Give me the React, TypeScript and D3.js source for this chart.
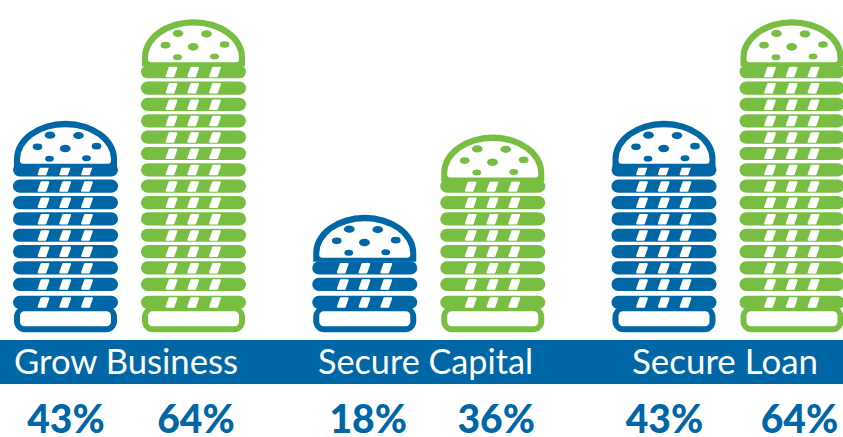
import React from "react";
import * as d3 from "d3";

const categories = ["Grow Business", "Secure Capital", "Secure Loan"];
const seriesNames = ["blue", "green"];
const blueValues = [43, 18, 43];
const greenValues = [64, 36, 64];
const blueLayers = [9, 3, 9];
const greenLayers = [15, 8, 15];

const BLUE = "#0067a6";
const GREEN = "#78be43";
const W = 843;
const H = 437;

const groupX = d3.scalePoint<string>().domain(categories).range([129.5, 728]);
const seriesX = d3.scalePoint<string>().domain(seriesNames).range([-64, 64]);
const layerY = d3.scaleLinear().domain([0, 15]).range([294.05, 48.8]);

// seed spots measured from the top of the bun
const seedSpots = [
  [-15.5, 14.3, 5.3, 3.6],
  [13, 14.7, 5.3, 3.6],
  [-28, 26, 4.8, 3.3],
  [-0.3, 27.7, 5.4, 3.8],
  [31, 25.3, 4.8, 3.3],
  [-16, 38, 4.4, 3],
  [21, 37.3, 4.4, 3],
];
const stripeOffsets = [-22, -0.3, 21.5];
const categoryExtents = [[14, 238], [318, 533], [632, 818]];
const labelShift = [0.5, 2.5, 3.5, 3.5, 0.5, 7.5];
const domeRise = [42.4, 46, 46.5, 45, 42.4, 46];

function Burger({ c, n, color, rise }: { c: number; n: number; color: string; rise: number }) {
  const layers = d3.range(n);
  const topY = layerY(n - 1);
  const t = topY - rise;
  const oBase = t + 47;
  const domePath = `M${c - 51.5},${oBase} L${c - 51.5},${t + 38} A51.5,38 0 0 1 ${c + 51.5},${t + 38} L${c + 51.5},${oBase} Z`;
  const b = t + 43;
  const innerPath = `M${c - 42.5},${b} Q${c - 45.5},${b} ${c - 45.5},${b - 3} L${c - 45.5},${t + 38.6} A45.5,32.3 0 0 1 ${c + 45.5},${t + 38.6} L${c + 45.5},${b - 3} Q${c + 45.5},${b} ${c + 42.5},${b} Z`;
  return (
    <g>
      <rect x={c - 51.5} y={306} width={103} height={26.3} rx={11} fill={color} />
      <rect x={c - 45.5} y={311.3} width={91} height={15} rx={4.5} fill="#fff" />
      {layers.map((i) => {
        const y = layerY(i) + (i === 0 ? 1.65 : 0);
        const sy0 = y + 1.6;
        const sy1 = y + 12.1;
        const lean = 3;
        return (
          <g key={i}>
            <rect x={c - 52.5} y={y} width={105} height={13.2} rx={6.6} fill={color} />
            {stripeOffsets.map((o) => {
              const x = c + o;
              const pts = [
                [x - 3.4 - lean / 2, sy1 - 1],
                [x - 3.4 + lean / 2, sy0 + 1],
                [x + 3.4 + lean / 2, sy0 + 1],
                [x + 3.4 - lean / 2, sy1 - 1],
              ];
              return (
                <polygon
                  key={o}
                  points={pts.map((p) => p.join(",")).join(" ")}
                  fill="#fff"
                  stroke="#fff"
                  strokeWidth={2}
                  strokeLinejoin="round"
                />
              );
            })}
          </g>
        );
      })}
      <path d={domePath} fill={color} />
      <path d={innerPath} fill="#fff" />
      {seedSpots.map(([dx, dy, rx, ry], i) => (
        <ellipse key={i} cx={c + dx} cy={t + dy} rx={rx} ry={ry} fill={color} />
      ))}
    </g>
  );
}

export default function App() {
  const allLabels = categories.flatMap((cat, i) => [
    { cat, s: "blue", v: blueValues[i], n: blueLayers[i], color: BLUE },
    { cat, s: "green", v: greenValues[i], n: greenLayers[i], color: GREEN },
  ]);
  return (
    <svg
      width={W}
      height={H}
      viewBox={`0 0 ${W} ${H}`}
      style={{ position: "absolute", left: 0, top: 0, background: "#fff" }}
    >
      {allLabels.map((d, i) => (
        <Burger key={i} c={groupX(d.cat)! + seriesX(d.s)!} n={d.n} color={d.color} rise={domeRise[i]} />
      ))}
      <rect x={0} y={340} width={W} height={44} fill={BLUE} />
      {categories.map((cat, i) => {
        const [x0, x1] = categoryExtents[i];
        return (
          <text
            key={cat}
            x={x0}
            y={374}
            fontFamily="Lato"
            fontSize={35}
            fill="#fff"
            textLength={x1 - x0}
            lengthAdjust="spacingAndGlyphs"
          >
            {cat}
          </text>
        );
      })}
      {allLabels.map((d, i) => (
        <text
          key={i}
          x={groupX(d.cat)! + seriesX(d.s)! + labelShift[i]}
          y={433}
          textAnchor="middle"
          fontFamily="Lato"
          fontWeight={900}
          fontSize={39}
          fill={BLUE}
        >
          {d.v}%
        </text>
      ))}
    </svg>
  );
}
